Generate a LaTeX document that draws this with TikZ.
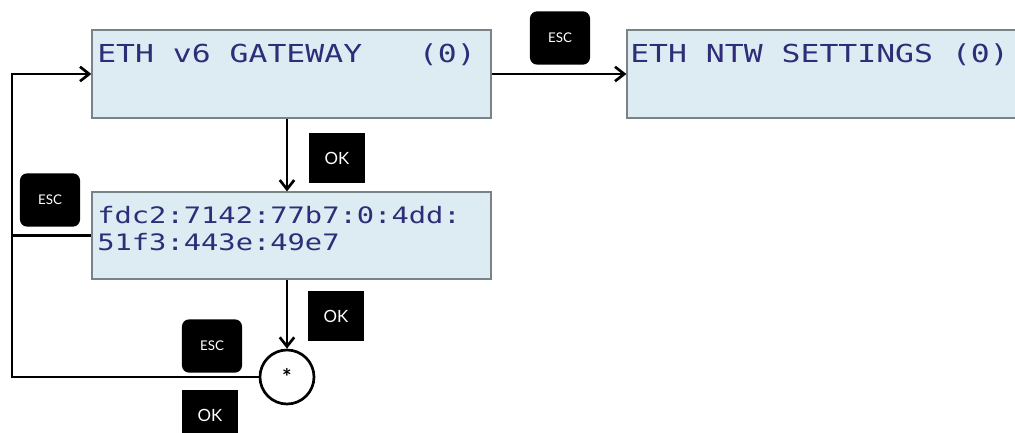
\documentclass[tikz,border=0pt]{standalone}
\usepackage{fontspec}
\usepackage{tikz}
\usetikzlibrary{arrows.meta, positioning}

\newfontfamily\lcdfont[FakeStretch=1.27]{DejaVu Sans Mono}
\newfontfamily\keyfont{Lato}

\definecolor{lcdblue}{RGB}{45,45,120}
\definecolor{lcdfill}{RGB}{221,236,243}
\definecolor{lcdedge}{RGB}{120,130,135}

\begin{document}
\begin{tikzpicture}[
    x=0.025cm, y=-0.025cm,
    lcd/.style = {
        draw=lcdedge, fill=lcdfill, line width=0.8pt,
        minimum width=9.975cm, minimum height=2.2cm, inner sep=0pt
    },
    lcdline/.style = {
        font=\lcdfont\fontsize{17.6}{19}\selectfont, text=lcdblue,
        anchor=base west, inner sep=0pt
    },
    lcdsmall/.style = {
        lcdline, font=\lcdfont\fontsize{16.1}{19}\selectfont
    },
    esckey/.style = {
        fill=black, rounded corners=5pt, text=white,
        minimum width=1.5cm, minimum height=1.33cm,
        font=\keyfont\fontsize{9.5}{10}\selectfont
    },
    okkey/.style = {
        fill=black, text=white,
        minimum width=1.42cm, minimum height=1.25cm,
        font=\keyfont\fontsize{12}{13}\selectfont
    },
    arr/.style = {-{Straight Barb[length=2.3mm, width=3.6mm]}, line width=1.9pt},
    link/.style = {line width=1.9pt},
]

\clip (0,0) rectangle (1015,433);
\fill[white] (0,0) rectangle (1015,433);

%% ── Displays ─────────────────────────────────────────────────────────
\node[lcd] (gateway)  at (291.5, 74)  {};
\node[lcd] (settings) at (826.5, 74)  {};
\node[lcd, minimum height=2.175cm] (address) at (291.5, 235.5) {};

\node[lcdline] (gwtext) at (97, 63)  {ETH~v6~GATEWAY~~~(0)};
\node[lcdline] (nwtext) at (630, 63) {ETH~NTW~SETTINGS~(0)};
\node[lcdsmall] (adtexta) at (97, 223) {fdc2:7142:77b7:0:4dd:};
\node[lcdsmall] (adtextb) at (97, 250) {51f3:443e:49e7};

%% ── Confirm point ────────────────────────────────────────────────────
\node[circle, draw, line width=1.9pt, fill=white, minimum size=1.35cm,
      font=\keyfont\bfseries\fontsize{16}{16}\selectfont] (star) at (287, 377) {*};

\coordinate (loop) at (12, 0);

%% ── Keys ─────────────────────────────────────────────────────────────
\node[esckey] (escnext) at (560, 38)  {ESC};
\node[esckey] (escaddr) at (50, 200)  {ESC};
\node[esckey] (escstar) at (212, 346) {ESC};
\node[okkey]  (okgw)    at (337, 158) {OK};
\node[okkey]  (okaddr)  at (336, 316) {OK};
\node[okkey]  (okstar)  at (210, 415) {OK};

%% ── Arrows ───────────────────────────────────────────────────────────
\draw[arr] (gateway.east) -- (settings.west);
\draw[arr] (gateway.south -| star) -- (address.north -| star);
\draw[arr] (address.south -| star) -- (star.north);
\draw[arr] (star.west) -- (star.west -| loop) |- (gateway.west);
\draw[link] (address.west) -- (address.west -| loop);

\end{tikzpicture}
\end{document}
